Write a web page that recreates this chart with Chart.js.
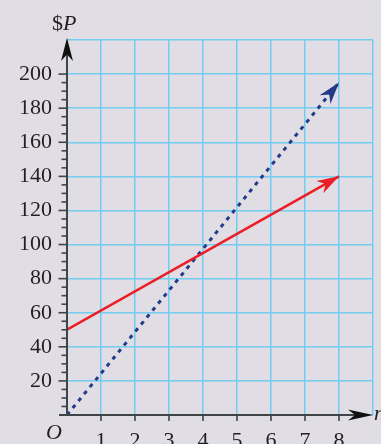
<!DOCTYPE html>
<html>
<head>
<meta charset="utf-8">
<script src="https://cdn.jsdelivr.net/npm/chart.js@4.4.0/dist/chart.umd.min.js"></script>
<style>
html,body{margin:0;padding:0;background:#e1dde4;}
#wrap{width:381px;height:444px;position:relative;}
</style>
</head>
<body>
<div id="wrap"><canvas id="c" width="381" height="444"></canvas></div>
<script>
// Data
const redLine = [{x:0, y:50}, {x:8, y:140}];
const blueLine = [{x:0, y:0}, {x:8, y:195}];
const xTickLabels = ['1','2','3','4','5','6','7','8'];
const yTickLabels = ['20','40','60','80','100','120','140','160','180','200'];
const xRange = [0, 9];
const yRange = [0, 220];

const BG = '#e1dde4';
const GRID = '#72cdf1';
const AXIS = '#3e4448';
const TEXT = '#231f20';
const RED = '#eb1d25';
const BLUE = '#233a8a';
const FONT = "'Liberation Serif', 'DejaVu Serif', serif";

function arrowHead(ctx, tx, ty, ang, L, W, notch, color) {
  const dx = Math.cos(ang), dy = Math.sin(ang);
  const px = -dy, py = dx;
  ctx.save();
  ctx.fillStyle = color;
  ctx.beginPath();
  ctx.moveTo(tx, ty);
  ctx.lineTo(tx - L*dx + W*px, ty - L*dy + W*py);
  ctx.lineTo(tx - notch*L*dx, ty - notch*L*dy);
  ctx.lineTo(tx - L*dx - W*px, ty - L*dy - W*py);
  ctx.closePath();
  ctx.fill();
  ctx.restore();
}

const deco = {
  id: 'deco',
  beforeDraw(chart) {
    const ctx = chart.ctx;
    ctx.save();
    ctx.fillStyle = BG;
    ctx.fillRect(0, 0, chart.width, chart.height);
    ctx.restore();
  },
  afterDatasetsDraw(chart) {
    const ctx = chart.ctx;
    const xs = chart.scales.x, ys = chart.scales.y;
    const x0 = xs.getPixelForValue(0), y0 = ys.getPixelForValue(0);
    const xEnd = xs.getPixelForValue(xRange[1]);
    const yEnd = ys.getPixelForValue(yRange[1]);
    ctx.save();
    ctx.strokeStyle = AXIS;
    ctx.lineWidth = 2;
    // y axis
    ctx.beginPath();
    ctx.moveTo(x0, y0);
    ctx.lineTo(x0, yEnd + 10);
    ctx.stroke();
    // x axis
    ctx.beginPath();
    ctx.moveTo(x0 - 8, y0);
    ctx.lineTo(xEnd - 10, y0);
    ctx.stroke();
    // y ticks
    ctx.lineWidth = 1.6;
    for (let v = 5; v <= 200; v += 5) {
      const y = ys.getPixelForValue(v);
      const len = (v % 20 === 0) ? 8.5 : 5.5;
      ctx.beginPath();
      ctx.moveTo(x0 - len, y);
      ctx.lineTo(x0, y);
      ctx.stroke();
    }
    // x ticks
    for (let v = 1; v <= 8; v++) {
      const x = xs.getPixelForValue(v);
      ctx.beginPath();
      ctx.moveTo(x, y0);
      ctx.lineTo(x, y0 + 6);
      ctx.stroke();
    }
    ctx.restore();
    // axis arrows
    arrowHead(ctx, x0, yEnd - 2, -Math.PI/2, 23, 6, 0.72, '#111');
    arrowHead(ctx, xEnd, y0, 0, 25, 5.5, 0.72, '#111');
    // line arrows
    const drawLineArrow = (data, color) => {
      const a = data[data.length-2], b = data[data.length-1];
      const ax = xs.getPixelForValue(a.x), ay = ys.getPixelForValue(a.y);
      const bx = xs.getPixelForValue(b.x), by = ys.getPixelForValue(b.y);
      arrowHead(ctx, bx, by, Math.atan2(by-ay, bx-ax), 22, 7, 0.7, color);
    };
    drawLineArrow(redLine, RED);
    drawLineArrow(blueLine, BLUE);
    // labels
    ctx.save();
    ctx.fillStyle = TEXT;
    ctx.textBaseline = 'alphabetic';
    ctx.textAlign = 'left';
    ctx.font = "22px " + FONT;
    ctx.fillText('$', 52, 30);
    ctx.font = "italic 22px " + FONT;
    ctx.fillText('P', 63, 30);
    ctx.fillText('O', 46, 439);
    ctx.fillText('n', 374, 420);
    ctx.restore();
  }
};

new Chart(document.getElementById('c'), {
  type: 'scatter',
  data: {
    datasets: [
      {data: redLine, showLine: true, borderColor: RED, borderWidth: 2.5, pointRadius: 0, fill: false},
      {data: blueLine, showLine: true, borderColor: BLUE, borderWidth: 3, borderDash: [4, 5], pointRadius: 0, fill: false}
    ]
  },
  options: {
    responsive: false,
    animation: false,
    devicePixelRatio: 1,
    layout: {padding: {top: 40, right: 8, left: 0, bottom: 0}},
    plugins: {legend: {display: false}, tooltip: {enabled: false}},
    scales: {
      x: {
        type: 'linear', min: xRange[0], max: xRange[1],
        afterFit(s) { s.height = 29; s.paddingRight = 0; s.paddingLeft = 0; },
        border: {display: false},
        grid: {color: GRID, lineWidth: 1.5, drawTicks: false},
        ticks: {
          stepSize: 1, padding: 13, color: TEXT, maxRotation: 0, autoSkip: false,
          font: {family: FONT, size: 22},
          callback: (v) => xTickLabels.includes(String(v)) ? String(v) : ''
        }
      },
      y: {
        type: 'linear', min: yRange[0], max: yRange[1],
        afterFit(s) { s.width = 67; s.paddingTop = 0; s.paddingBottom = 0; },
        border: {display: false},
        grid: {color: GRID, lineWidth: 1.5, drawTicks: false},
        ticks: {
          stepSize: 20, padding: 15, color: TEXT, autoSkip: false,
          font: {family: FONT, size: 22},
          callback: (v) => yTickLabels.includes(String(v)) ? String(v) : ''
        }
      }
    }
  },
  plugins: [deco]
});
</script>
</body>
</html>
